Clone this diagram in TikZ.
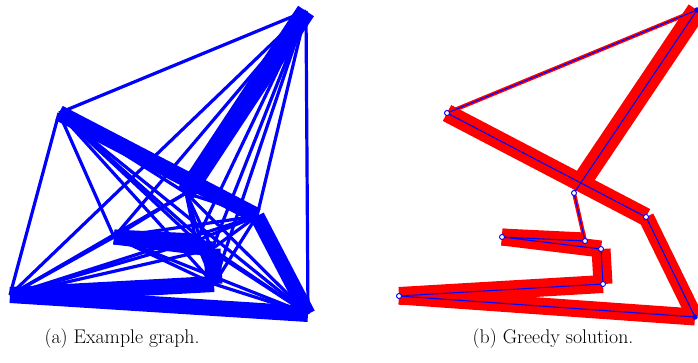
\documentclass[tikz,border=0pt]{standalone}
\usetikzlibrary{calc}

\begin{document}
\begin{tikzpicture}[
  x=1pt,y=-1pt,
  edge/.style={blue, line width=3.2pt},
  bundle/.style={blue, line width=#1},
  band/.style={red, line width=#1},
  tour/.style={blue, line width=1.1pt},
  city/.style={circle, draw=blue, line width=0.9pt, fill=white, inner sep=0pt, minimum size=5pt},
  endcity/.style={circle, fill=blue, inner sep=0pt, minimum size=5.5pt},
  subcap/.style={font=\fontsize{19.8}{24}\selectfont}
]
\useasboundingbox (0,0) rectangle (698,362);

% (a) clusters
\coordinate (g1) at (306,11);
\coordinate (g2) at (59,113);
\coordinate (g3) at (186,193);
\coordinate (g4) at (257,216);
\coordinate (g5) at (196,241);
\coordinate (g6) at (114,237);
\coordinate (g7) at (212,249);
\coordinate (g8) at (214,284);
\coordinate (g9) at (10,295);
\coordinate (g10) at (308,314);

% every pair of clusters
\foreach \i in {1,...,9}{
  \pgfmathtruncatemacro\k{\i+1}
  \foreach \j in {\k,...,10}
    \draw[edge] (g\i) -- (g\j);
}
% heavy bundles
\draw[bundle=19pt] (g1) -- (g3);
\draw[bundle=16pt] (g2) -- (g4);
\draw[bundle=15pt] (g4) -- (g10);
\draw[bundle=16pt] (g10) -- (g9);
\draw[bundle=16pt] (g9) -- (g8);
\draw[bundle=17pt] (g8) -- (g7);
\draw[bundle=15pt] (g7) -- (g6);
\draw[bundle=15pt] (g6) -- (g5);

% (b) greedy tour
\begin{scope}[xshift=389pt]
\coordinate (s1) at (308,10);
\coordinate (s2) at (58,113);
\coordinate (s3) at (185,193);
\coordinate (s4) at (257,217);
\coordinate (s5) at (196,241);
\coordinate (s6) at (113,237);
\coordinate (s7) at (212,249);
\coordinate (s8) at (214,284);
\coordinate (s9) at (10,296);
\coordinate (s10) at (306,317);

\draw[band=4pt] (s1) -- (s2);
\draw[band=18pt] (s2) -- (s4);
\draw[band=20pt, shorten >=14pt] (s1) -- (s3);
\draw[band=16pt] (s4) -- (s10);
\draw[band=17pt] (s10) -- (s9);
\draw[band=18pt] (s9) -- (s8);
\draw[band=19pt] (s8) -- (s7);
\draw[band=17pt] (s7) -- (s6);
\draw[band=17pt] (s6) -- (s5);
\draw[band=4pt] (s5) -- (s3);

\draw[tour] (s1) -- (s2) -- (s4) -- (s10) -- (s9) -- (s8) -- (s7) -- (s6) -- (s5) -- (s3) -- (s1);
\foreach \n in {2,...,9}
  \node[city] (c\n) at (s\n) {};
\node[endcity] (c1) at (s1) {};
\node[endcity] (c10) at (s10) {};
\end{scope}

\node[subcap] (capa) at (122,339) {(a) Example graph.};
\node[subcap] (capb) at (553,339) {(b) Greedy solution.};
\end{tikzpicture}
\end{document}
